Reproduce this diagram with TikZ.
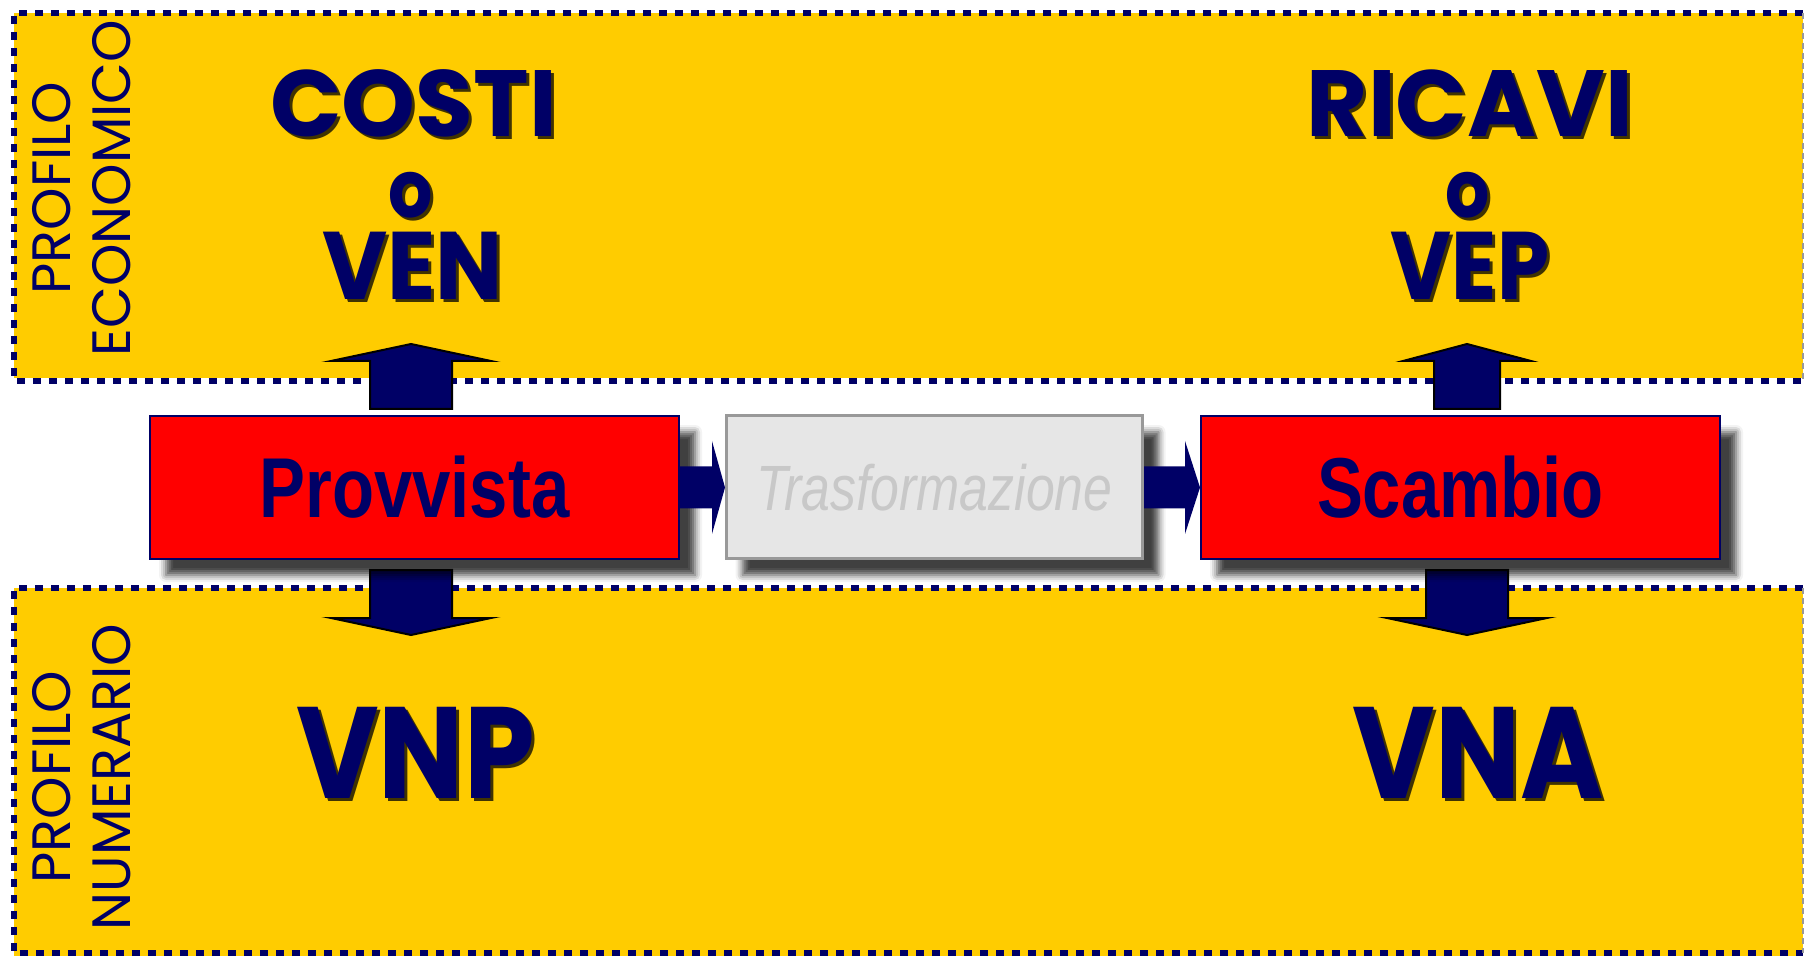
\documentclass[tikz,border=0pt]{standalone}
\usepackage{fontspec}
\setmainfont{Liberation Sans}
\newfontfamily\comicfont{Poppins}
\newfontfamily\comicn{Poppins}[FakeStretch=0.87]
\newfontfamily\comicm{Poppins}[FakeStretch=0.93]
\newfontfamily\comicw{Poppins}[FakeStretch=1.0]
\newfontfamily\narrowfont{Liberation Sans}[FakeStretch=0.81]
\usetikzlibrary{shadows.blur}
\definecolor{navy}{HTML}{000066}
\definecolor{gold}{HTML}{FFCC00}
\definecolor{boxred}{HTML}{FF0000}
\definecolor{lgray}{HTML}{E6E6E6}
\definecolor{mgray}{HTML}{999999}
\definecolor{tgray}{HTML}{C8C8C8}
\pgfdeclarelayer{bg}
\pgfdeclarelayer{mid}
\pgfsetlayers{bg,mid,main}
\newcommand\blockarrow[4]{%
  \draw[blockarr] ([shift={(-#3,0)}]#1) -- ([shift={(-#3,#2*48)}]#1) -- ([shift={(-#4,#2*48)}]#1)
    -- ([shift={(0,#2*65)}]#1) -- ([shift={(#4,#2*48)}]#1) -- ([shift={(#3,#2*48)}]#1)
    -- ([shift={(#3,0)}]#1) -- cycle;}
% #1 name, #2 position, #3 size, #4 family, #5 text
\newcommand\shlabel[5]{%
  \node[bigshadow, font=#4\bfseries\fontsize{#3}{#3}\selectfont] (#1s) at ([shift={(3,3)}]#2) {#5};
  \node[bigtext, font=#4\bfseries\fontsize{#3}{#3}\selectfont] (#1) at (#2) {#5};}
\begin{document}
\begin{tikzpicture}[x=0.5pt,y=-0.5pt,
  dotborder/.style={draw=navy, line width=3pt, dash pattern=on 4pt off 4pt},
  edgeborder/.style={draw=mgray, line width=0.6pt, dash pattern=on 3pt off 2pt},
  sidelabel/.style={rotate=90, align=center, text=navy, inner sep=0pt,
    font=\comicfont\fontsize{27}{30}\selectfont},
  bigtext/.style={anchor=base, text=navy, inner sep=0pt},
  bigshadow/.style={anchor=base, text=black, text opacity=0.75, inner sep=0pt},
  boxshadow/.style={blur shadow={shadow xshift=8pt, shadow yshift=-8pt, shadow blur radius=3.5pt, shadow opacity=75}},
  redbox/.style={draw=navy, line width=1pt, fill=boxred, minimum height=71.5pt, inner sep=0pt,
    text=navy, font=\narrowfont\bfseries\fontsize{42.5}{42.5}\selectfont, boxshadow},
  graybox/.style={draw=mgray, line width=1.5pt, fill=lgray, minimum height=71.5pt, inner sep=0pt,
    text=tgray, font=\narrowfont\itshape\fontsize{32}{32}\selectfont, boxshadow},
  blockarr/.style={fill=navy, draw=black, line width=1pt, line join=miter},
  flatarr/.style={fill=navy}]
\useasboundingbox (0,0) rectangle (1804,956);

% process boxes
\node[redbox, minimum width=264.5pt] (prov) at (414.5,487.5) {Provvista};
\node[graybox, minimum width=208pt] (trans) at (934.5,487.5) {Trasformazione};
\node[redbox, minimum width=259.5pt] (scam) at (1460.5,487.5) {Scambio};

% horizontal arrows (above shadows)
\fill[flatarr] ([shift={(0,-21)}]prov.east) -- ([shift={(-13,-21)}]trans.west) -- ([shift={(-13,-46.5)}]trans.west)
  -- (trans.west) -- ([shift={(-13,46.5)}]trans.west) -- ([shift={(-13,21)}]trans.west)
  -- ([shift={(0,21)}]prov.east) -- cycle;
\fill[flatarr] ([shift={(0,-21)}]trans.east) -- ([shift={(-15,-21)}]scam.west) -- ([shift={(-15,-46.5)}]scam.west)
  -- (scam.west) -- ([shift={(-15,46.5)}]scam.west) -- ([shift={(-15,21)}]scam.west)
  -- ([shift={(0,21)}]trans.east) -- cycle;

\begin{pgfonlayer}{bg}
  % panels
  \fill[gold] (14,13) rectangle (1803,378);
  \fill[gold] (14,588) rectangle (1803,956);
  \draw[dotborder] (1803,13) -- (14,13) -- (14,381) -- (1803,381);
  \draw[edgeborder] (1803,13) -- (1803,381);
  \draw[dotborder] (1803,588) -- (14,588) -- (14,953) -- (1803,953);
  \draw[edgeborder] (1803,588) -- (1803,953);
  \node[sidelabel] (eco) at (82,188) {PROFILO\\ECONOMICO};
  \node[sidelabel] (num) at (82,777) {PROFILO\\NUMERARIO};
  \shlabel{costi}{413.5,137}{47}{\comicw}{COSTI}
  \shlabel{o1}{411,218}{40}{\comicn}{o}
  \shlabel{ven}{412.5,300}{48}{\comicm}{VEN}
  \shlabel{ricavi}{1470,137}{47}{\comicw}{RICAVI}
  \shlabel{o2}{1468,218}{40}{\comicn}{o}
  \shlabel{vep}{1470,300}{48}{\comicn}{VEP}
  \shlabel{vnp}{415.5,798}{65}{\comicn}{VNP}
  \shlabel{vna}{1478,798}{65}{\comicn}{VNA}
\end{pgfonlayer}

\begin{pgfonlayer}{mid}
  \coordinate (pu) at ([shift={(-3.5,-6)}]prov.north);
  \coordinate (pd) at ([shift={(-3.5,10)}]prov.south);
  \coordinate (su) at ([shift={(6.5,-6)}]scam.north);
  \coordinate (sd) at ([shift={(6.5,10)}]scam.south);
  \blockarrow{pu}{-1}{41}{80}
  \blockarrow{pd}{1}{41}{80}
  \blockarrow{su}{-1}{33}{64}
  \blockarrow{sd}{1}{41}{80}
\end{pgfonlayer}
\end{tikzpicture}
\end{document}
